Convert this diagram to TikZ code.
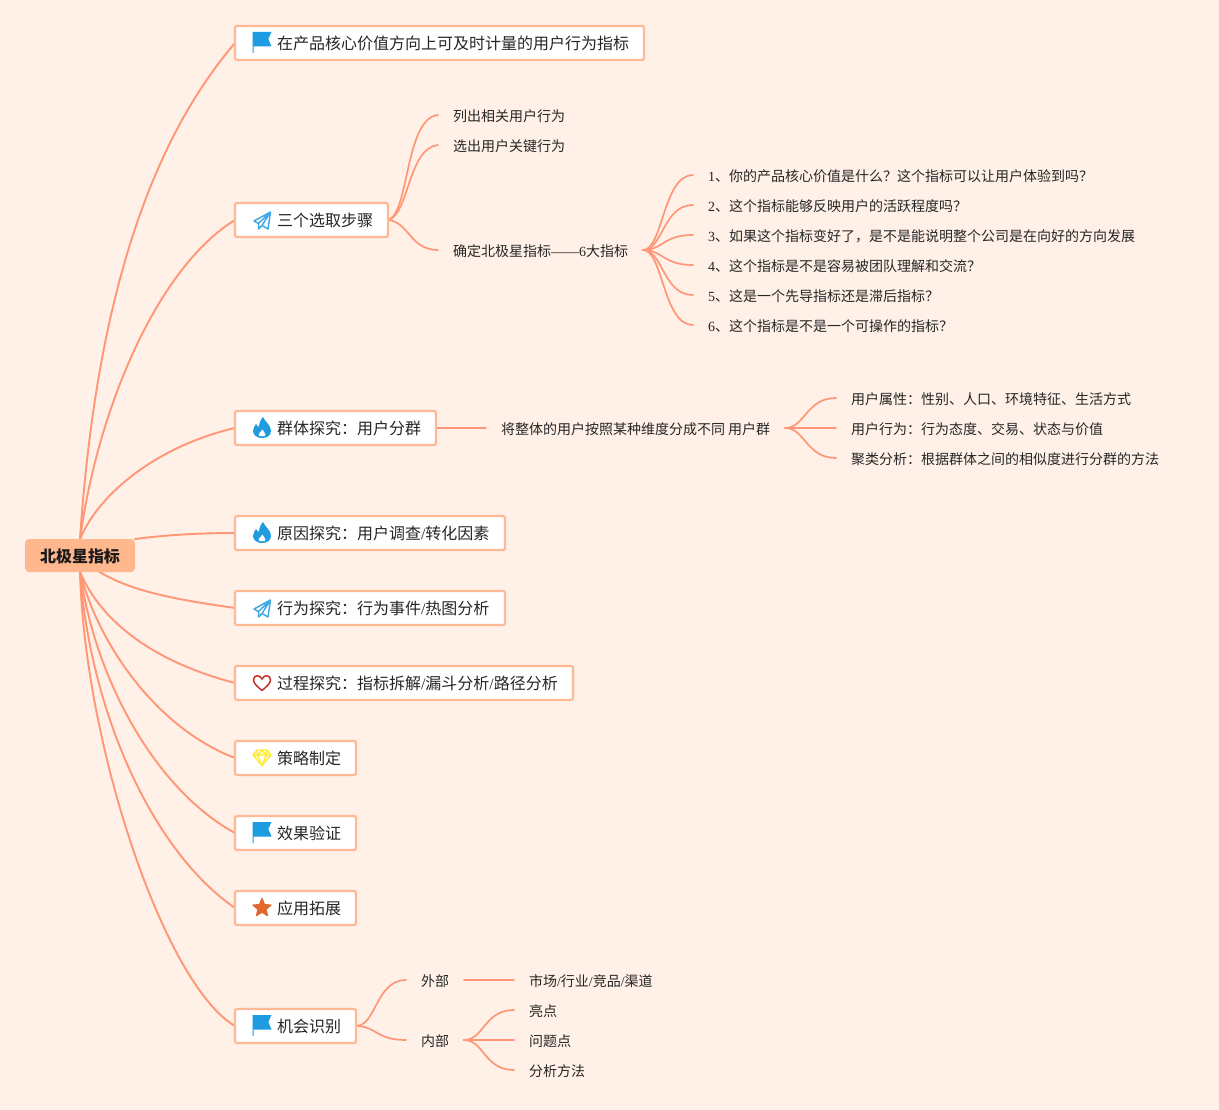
\documentclass[tikz,border=0pt]{standalone}
\usepackage{fontspec}
\setmainfont{Noto Sans CJK SC}
\newfontfamily\lat{Liberation Serif}
\usetikzlibrary{backgrounds}
\definecolor{bgc}{HTML}{FFF1E7}
\definecolor{linec}{HTML}{FF9676}
\definecolor{boxc}{HTML}{FFB995}
\definecolor{rootc}{HTML}{FFB88E}
\definecolor{txt}{HTML}{262626}
\definecolor{iblue}{HTML}{1F9BE1}
\definecolor{istar}{HTML}{E2672E}
\definecolor{iheart}{HTML}{C4302B}
\definecolor{igem}{HTML}{FFEB3C}
\newcommand\La[1]{{\lat #1}}
\newcommand\slh{{\lat /}}
\newcommand\BT[2]{\makebox[#1pt][l]{\hspace{42pt}#2}}
\tikzset{
  x=1pt,y=-1pt,
  box/.style={draw=boxc,line width=2.2pt,fill=white,rounded corners=2pt,anchor=west,inner sep=0pt,outer sep=0pt,minimum height=34pt,font=\fontsize{16}{16}\selectfont,text=txt,text height=14.4pt,text depth=0.5pt},
  rootbox/.style={fill=rootc,rounded corners=4pt,inner sep=0pt,outer sep=0pt,minimum width=110pt,minimum height=33pt,font=\fontsize{16}{16}\selectfont\bfseries,text=black!90,text height=14.4pt,text depth=0.5pt},
  leaf/.style={anchor=west,inner xsep=15pt,inner ysep=0pt,outer sep=0pt,font=\fontsize{14}{14}\selectfont,text=txt,text height=14.4pt,text depth=0.5pt},
  main/.style={draw=linec,line width=1.9pt,line cap=round},
  sub/.style={draw=linec,line width=1.7pt,line cap=round},
  flagicon/.pic={\fill[iblue] (-9.5,-11) -- (9.5,-11) -- (6.3,-4) -- (9.5,3.5) -- (-8.3,3.5) -- (-8.3,10) -- (-9.5,10) -- cycle;},
  planeicon/.pic={\draw[iblue!85!white,line width=1.5pt,line join=round] (8.5,-8) -- (-8,1) -- (-3.5,3.5) -- (8.5,-8) -- (6,9) -- (0,5.5) -- (-3.5,9) -- (-3.5,3.5) (0,5.5) -- (8.5,-8);},
  flameicon/.pic={\fill[iblue] (1,-11) .. controls (3,-6) and (9,-3) .. (9,3) .. controls (9,7.5) and (5,10) .. (0,10) .. controls (-5,10) and (-9,7) .. (-9,3) .. controls (-9,0) and (-7,-2) .. (-6,-4) .. controls (-5.5,-2.5) and (-4,-2) .. (-3,-1) .. controls (-3,-5) and (-1,-9) .. (1,-11) -- cycle;
    \fill[white] (0.5,1.5) .. controls (1,4) and (4,5) .. (3.5,7) .. controls (3,8.7) and (-3,8.7) .. (-3.5,7) .. controls (-3.8,5) and (-0.5,4) .. (0.5,1.5) -- cycle;},
  hearticon/.pic={\draw[iheart,line width=1.5pt,line join=round] (0,7.5) .. controls (-4,4) and (-8.5,0.5) .. (-8.5,-3) .. controls (-8.5,-8.5) and (-2,-8.5) .. (0,-4) .. controls (2,-8.5) and (8.5,-8.5) .. (8.5,-3) .. controls (8.5,0.5) and (4,4) .. (0,7.5) -- cycle;},
  gemicon/.pic={\draw[igem,fill=igem!40!white,line width=1.3pt,line join=round] (-5,-8) -- (5,-8) -- (9,-3) -- (0,8) -- (-9,-3) -- cycle (-9,-3) -- (9,-3) (-4,-3) -- (0,8) -- (4,-3) (-5,-8) -- (-4,-3) -- (0,-8) -- (4,-3) -- (5,-8);},
  staricon/.pic={\fill[istar,draw=istar,line width=1.2pt,line join=round] (90:-9.5) -- (126:-4.2) -- (162:-9.5) -- (198:-4.2) -- (234:-9.5) -- (270:-4.2) -- (306:-9.5) -- (342:-4.2) -- (18:-9.5) -- (54:-4.2) -- cycle;}
}
\begin{document}
\begin{tikzpicture}
\useasboundingbox (0,0) rectangle (1219,1110);
% main boxes
\node[rootbox] (root) at (80,555.5) {北极星指标};
\node[box] (a) at (235,43) {\BT{409}{在产品核心价值方向上可及时计量的用户行为指标}};
\node[box] (b) at (235,220) {\BT{153}{三个选取步骤}};
\node[box] (c) at (235,428) {\BT{201}{群体探究：用户分群}};
\node[box] (d) at (235,533) {\BT{270}{原因探究：用户调查\slh 转化因素}};
\node[box] (e) at (235,608) {\BT{270}{行为探究：行为事件\slh 热图分析}};
\node[box] (f) at (235,683) {\BT{338}{过程探究：指标拆解\slh 漏斗分析\slh 路径分析}};
\node[box] (g) at (235,758) {\BT{121}{策略制定}};
\node[box] (h) at (235,833) {\BT{121}{效果验证}};
\node[box] (i) at (235,908) {\BT{121}{应用拓展}};
\node[box] (j) at (235,1026) {\BT{121}{机会识别}};
% icons
\pic at (262,43) {flagicon};
\pic at (262,220) {planeicon};
\pic at (262,428) {flameicon};
\pic at (262,533) {flameicon};
\pic at (262,608) {planeicon};
\pic at (262,683) {hearticon};
\pic at (262,758) {gemicon};
\pic at (262,833) {flagicon};
\pic at (262,908) {staricon};
\pic at (262,1026) {flagicon};
% leaves
\node[leaf] (b1) at (438,115) {列出相关用户行为};
\node[leaf] (b2) at (438,145) {选出用户关键行为};
\node[leaf] (b3) at (438,250) {确定北极星指标\La{——6}大指标};
\node[leaf] (q1) at (693,175) {\La{1}、你的产品核心价值是什么？这个指标可以让用户体验到吗？};
\node[leaf] (q2) at (693,205) {\La{2}、这个指标能够反映用户的活跃程度吗？};
\node[leaf] (q3) at (693,235) {\La{3}、如果这个指标变好了，是不是能说明整个公司是在向好的方向发展};
\node[leaf] (q4) at (693,265) {\La{4}、这个指标是不是容易被团队理解和交流？};
\node[leaf] (q5) at (693,295) {\La{5}、这是一个先导指标还是滞后指标？};
\node[leaf] (q6) at (693,325) {\La{6}、这个指标是不是一个可操作的指标？};
\node[leaf] (c1) at (486,428) {将整体的用户按照某种维度分成不同 用户群};
\node[leaf] (c2) at (836,398) {用户属性：性别、人口、环境特征、生活方式};
\node[leaf] (c3) at (836,428) {用户行为：行为态度、交易、状态与价值};
\node[leaf] (c4) at (836,458) {聚类分析：根据群体之间的相似度进行分群的方法};
\node[leaf] (j1) at (406,980) {外部};
\node[leaf] (j2) at (406,1040) {内部};
\node[leaf] (k1) at (514,980) {市场\slh 行业\slh 竞品\slh 渠道};
\node[leaf] (k2) at (514,1010) {亮点};
\node[leaf] (k3) at (514,1040) {问题点};
\node[leaf] (k4) at (514,1070) {分析方法};
\begin{scope}[on background layer]
\fill[bgc] (0,0) rectangle (1219,1110);
\draw[main] (root.north) .. controls +(14,-208) and +(-96,112) .. (a.west);
\draw[main] (root.north) .. controls +(19,-138) and +(-74,45) .. (b.west);
\draw[main] (root.north) .. controls +(20,-48) and +(-74,17) .. (c.west);
\draw[main] (root.north east) .. controls +(30,-4) and +(-35,0) .. (d.west);
\draw[main] (root.center) .. controls +(30,35) and +(-54,-8) .. (e.west);
\draw[main] (root.south) .. controls +(25,58) and +(-69,-18) .. (f.west);
\draw[main] (root.south) .. controls +(20,78) and +(-74,-28) .. (g.west);
\draw[main] (root.south) .. controls +(15,108) and +(-79,-43) .. (h.west);
\draw[main] (root.south) .. controls +(10,138) and +(-84,-58) .. (i.west);
\draw[main] (root.south) .. controls +(5,178) and +(-69,-40) .. (j.west);
\draw[sub] (b.east) .. controls +(21,-5) and +(-33,3) .. (b1.west);
\draw[sub] (b.east) .. controls +(21,-5) and +(-30,3) .. (b2.west);
\draw[sub] (b.east) .. controls +(21,2) and +(-28,0) .. (b3.west);
\foreach \t in {q1,q2,q3,q4,q5,q6}
  \draw[sub] (b3.east) .. controls +(20,0) and +(-30,0) .. (\t.west);
\draw[sub] (c.east) -- (c1.west);
\foreach \t in {c2,c3,c4}
  \draw[sub] (c1.east) .. controls +(20,0) and +(-30,0) .. (\t.west);
\draw[sub] (j.east) .. controls +(20,0) and +(-30,0) .. (j1.west);
\draw[sub] (j.east) .. controls +(20,0) and +(-30,0) .. (j2.west);
\draw[sub] (j1.east) -- (k1.west);
\foreach \t in {k2,k3,k4}
  \draw[sub] (j2.east) .. controls +(20,0) and +(-30,0) .. (\t.west);
\end{scope}
\end{tikzpicture}
\end{document}
